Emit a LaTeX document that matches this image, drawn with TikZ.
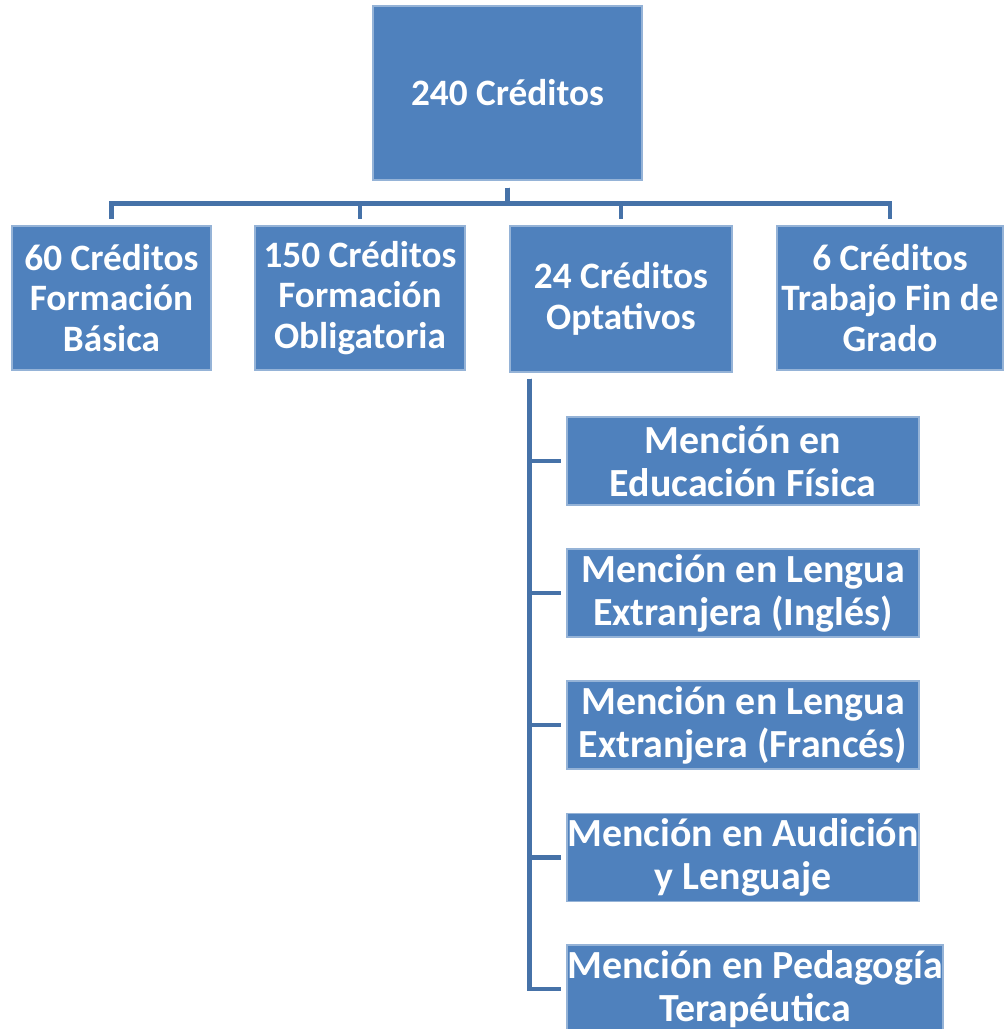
\documentclass[tikz,border=0pt]{standalone}
\usepackage{fontspec}
\setmainfont{Carlito}
\usetikzlibrary{positioning}
\definecolor{boxblue}{HTML}{4F81BD}
\definecolor{lineblue}{HTML}{4672A8}

\begin{document}
\begin{tikzpicture}[box/.style={fill=boxblue, draw=white!40!boxblue, line width=0.6pt, text=white, align=center, inner sep=0pt, font=\fontsize{21.2}{23}\selectfont\bfseries}, mbox/.style={box, minimum height=1.76cm, font=\fontsize{22.7}{24.5}\selectfont\bfseries}, link/.style={draw=lineblue, line width=2.5pt}]

\useasboundingbox (0,0) rectangle (20.1,-20.58);

\node[box, minimum width=5.38cm, minimum height=3.48cm] at (10.15,-1.86) (a) {240 Créditos};
\node[box, minimum width=3.98cm, minimum height=2.88cm] at (2.23,-5.96) (b) {60 Créditos\\Formación\\Básica};
\node[box, minimum width=4.2cm, minimum height=2.88cm] at (7.2,-5.96) (c) {150 Créditos\\Formación\\Obligatoria};
\node[box, minimum width=4.44cm, minimum height=2.92cm] at (12.42,-5.98) (d) {24 Créditos\\Optativos};
\node[box, minimum width=4.52cm, minimum height=2.88cm] at (17.8,-5.96) (e) {6 Créditos\\Trabajo Fin de\\Grado};

\node[mbox, minimum width=7.04cm] at (14.86,-9.22) (m1) {Mención en\\Educación Física};
\node[mbox, minimum width=7.04cm] at (14.86,-11.86) (m2) {Mención en Lengua\\Extranjera (Inglés)};
\node[mbox, minimum width=7.04cm] at (14.86,-14.5) (m3) {Mención en Lengua\\Extranjera (Francés)};
\node[mbox, minimum width=7.04cm] at (14.86,-17.15) (m4) {Mención en Audición\\y Lenguaje};
\node[mbox, minimum width=7.52cm] at (15.1,-19.78) (m5) {Mención en Pedagogía\\Terapéutica};

\draw [link] ([yshift=-0.14cm]a.south) |- ([yshift=0.44cm]b.north) -- ([yshift=0.12cm]b.north);
\draw [link] ([yshift=-0.14cm]a.south) |- ([yshift=0.44cm]c.north) -- ([yshift=0.12cm]c.north);
\draw [link] ([yshift=-0.14cm]a.south) |- ([yshift=0.44cm]d.north) -- ([yshift=0.12cm]d.north);
\draw [link] ([yshift=-0.14cm]a.south) |- ([yshift=0.44cm]e.north) -- ([yshift=0.12cm]e.north);

\coordinate (spine) at ([xshift=0.4cm, yshift=-0.12cm]d.south west);

\draw [link] (spine) |- ([xshift=-0.1cm]m1.west);
\draw [link] (spine) |- ([xshift=-0.1cm]m2.west);
\draw [link] (spine) |- ([xshift=-0.1cm]m3.west);
\draw [link] (spine) |- ([xshift=-0.1cm]m4.west);
\draw [link] (spine) |- ([xshift=-0.1cm]m5.west);

\end{tikzpicture}
\end{document}
